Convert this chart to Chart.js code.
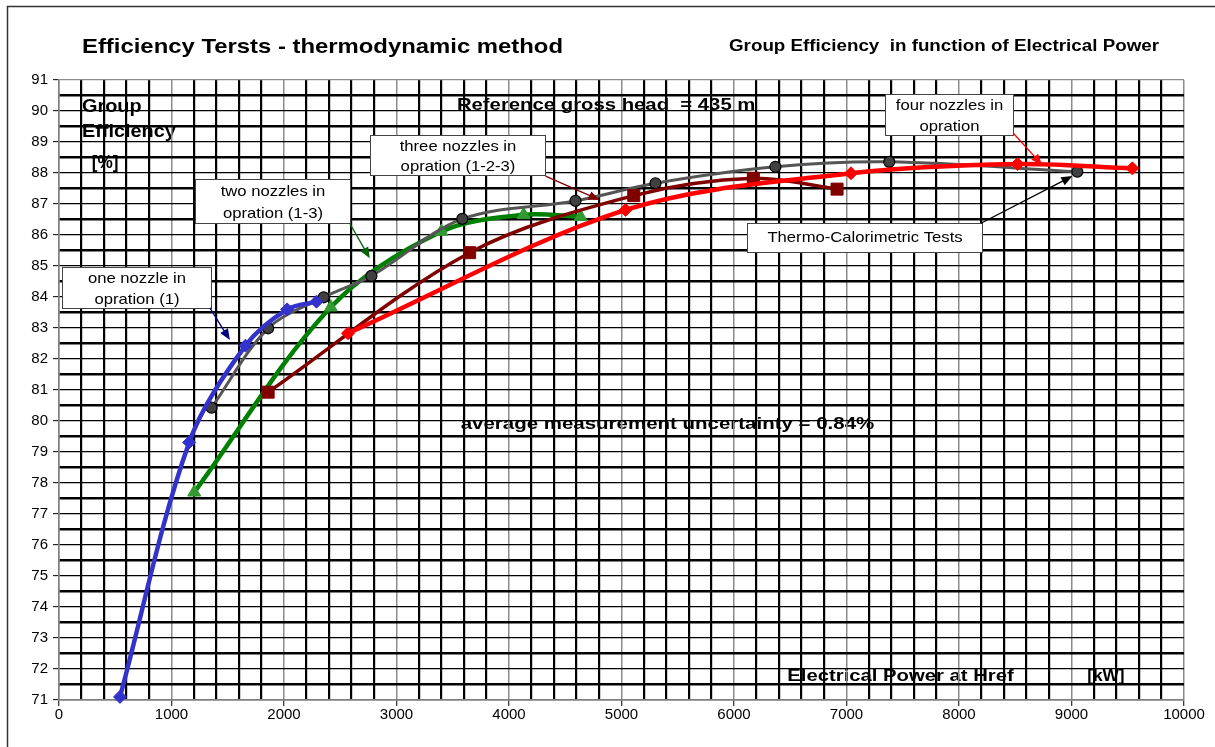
<!DOCTYPE html>
<html>
<head>
<meta charset="utf-8">
<title>Efficiency Tersts - thermodynamic method</title>
<script src="https://cdn.jsdelivr.net/npm/chart.js@4.4.1/dist/chart.umd.min.js"></script>
<style>
  html, body { margin: 0; padding: 0; background: #fff; }
  canvas { display: block; }
</style>
</head>
<body>
<canvas id="chart" width="1215" height="747"></canvas>
<script>
// ── Data (x = kW at Href, y = group efficiency %) ──
const oneNozzleX    = [542, 1157, 1658, 2028, 2289];
const oneNozzleY    = [71.10, 79.31, 82.43, 83.60, 83.85];
const twoNozzlesX   = [1202, 2416, 3399, 4130, 4636];
const twoNozzlesY   = [77.70, 83.67, 86.11, 86.65, 86.59];
const threeNozzlesX = [1859, 3650, 5109, 6172, 6916];
const threeNozzlesY = [80.93, 85.43, 87.27, 87.83, 87.48];
const fourNozzlesX  = [2569, 5036, 7040, 8520, 9541];
const fourNozzlesY  = [82.83, 86.81, 87.99, 88.29, 88.15];
const thermoX       = [1356, 1859, 2353, 2777, 3585, 4591, 5302, 6368, 7380, 9052];
const thermoY       = [80.43, 82.99, 83.99, 84.68, 86.52, 87.10, 87.67, 88.20, 88.36, 88.04];

// axis ticks: labelled majors + unlabelled minor grid steps
const X_MIN = 0, X_MAX = 10000, X_STEP = 200, X_MAJOR = 1000;
const Y_MIN = 71, Y_MAX = 91, Y_STEP = 0.5;
const xTicks = Array.from({ length: (X_MAX - X_MIN) / X_STEP + 1 }, (_, i) => X_MIN + i * X_STEP);
const yTicks = Array.from({ length: (Y_MAX - Y_MIN) / Y_STEP + 1 }, (_, i) => Y_MIN + i * Y_STEP);

const TITLE    = "Efficiency Tersts - thermodynamic method";
const SUBTITLE = "Group Efficiency  in function of Electrical Power";

const FONT = 'Arial, "Liberation Sans", sans-serif';
Chart.defaults.font.family = FONT;

// texts sitting inside the plot (under the grid), anchored in data units
const plotTexts = [
    { text: "Group",      x0: 204,  x1: 734,  y: 90.14, font: "bold 18px " + FONT },
    { text: "Efficiency", x0: 204,  x1: 1039, y: 89.33, font: "bold 18px " + FONT },
    { text: "[%]",        x0: 291,  x1: 529,  y: 88.32, font: "bold 18px " + FONT },
    { text: "Reference gross head  = 435 m",           x0: 3537, x1: 6190, y: 90.19, font: "bold 17px " + FONT },
    { text: "average measurement uncertainty = 0.84%", x0: 3570, x1: 7247, y: 79.90, font: "bold 17px " + FONT },
    { text: "Electrical Power at Href", x0: 6474, x1: 8486, y: 71.74, font: "bold 16px " + FONT },
    { text: "[kW]",                     x0: 9139, x1: 9472, y: 71.74, font: "bold 16px " + FONT },
];

// callout boxes with arrows: box = [xLeft, yTop, xRight, yBottom]
const callouts = [
    { lines: ["one nozzle in", "opration (1)"],         box: [27, 84.98, 1350, 83.64],   from: [1341, 83.65], to: [1519, 82.61], color: "#000080" },
    { lines: ["two nozzles in", "opration (1-3)"],      box: [1208, 87.82, 2584, 86.38], from: [2584, 86.38], to: [2762, 85.25], color: "#006400" },
    { lines: ["three nozzles in", "opration (1-2-3)"],  box: [2766, 89.23, 4320, 87.92], from: [4325, 87.90], to: [4805, 87.13], color: "#800000" },
    { lines: ["four nozzles in", "opration"],           box: [7345, 90.55, 8481, 89.23], from: [8481, 89.29], to: [8739, 88.26], color: "#ff0000" },
    { lines: ["Thermo-Calorimetric Tests"],             box: [6116, 86.40, 8200, 85.45], from: [8195, 86.38], to: [9008, 87.90], color: "#000000" },
];

const pts = (xs, ys) => xs.map((x, i) => ({ x, y: ys[i] }));

// draws text stretched horizontally to span x0..x1 (the original is wide-set)
function fitText(ctx, text, x0, x1, yc, font) {
    ctx.font = font;
    const w = ctx.measureText(text).width;
    ctx.save();
    ctx.translate(x0, yc);
    ctx.scale((x1 - x0) / w, 1);
    ctx.textAlign = "left";
    ctx.textBaseline = "middle";
    ctx.fillText(text, 0, 0);
    ctx.restore();
}

function arrow(ctx, x0, y0, x1, y1, color) {
    const a = Math.atan2(y1 - y0, x1 - x0), L = 11, W = 4.5;
    ctx.strokeStyle = color; ctx.fillStyle = color; ctx.lineWidth = 1.3;
    ctx.beginPath();
    ctx.moveTo(x0, y0);
    ctx.lineTo(x1 - Math.cos(a) * L * 0.8, y1 - Math.sin(a) * L * 0.8);
    ctx.stroke();
    ctx.beginPath();
    ctx.moveTo(x1, y1);
    ctx.lineTo(x1 - Math.cos(a) * L - Math.sin(a) * W, y1 - Math.sin(a) * L + Math.cos(a) * W);
    ctx.lineTo(x1 - Math.cos(a) * L + Math.sin(a) * W, y1 - Math.sin(a) * L - Math.cos(a) * W);
    ctx.closePath();
    ctx.fill();
}

const decorPlugin = {
    id: "decor",
    beforeDraw(chart) {
        const { ctx, scales: { x, y } } = chart;
        ctx.save();
        ctx.fillStyle = "#fff";
        ctx.fillRect(0, 0, chart.width, chart.height);
        // outer frame (only top and left edges fall inside the picture)
        ctx.strokeStyle = "#333"; ctx.lineWidth = 1.5;
        ctx.beginPath();
        ctx.moveTo(7.5, chart.height); ctx.lineTo(7.5, 6.5); ctx.lineTo(chart.width, 6.5);
        ctx.stroke();
        ctx.fillStyle = "#000";
        fitText(ctx, TITLE, 82, 563, 47, "bold 21px " + FONT);
        fitText(ctx, SUBTITLE, 729, 1159, 47, "bold 16px " + FONT);
        plotTexts.forEach(t => fitText(ctx, t.text,
            x.getPixelForValue(t.x0), x.getPixelForValue(t.x1), y.getPixelForValue(t.y), t.font));
        ctx.restore();
    },
    afterDraw(chart) {
        const { ctx, scales: { x, y } } = chart;
        ctx.save();
        callouts.forEach(c => {
            const l = Math.round(x.getPixelForValue(c.box[0])) + 0.5;
            const t = Math.round(y.getPixelForValue(c.box[1])) + 0.5;
            const r = Math.round(x.getPixelForValue(c.box[2])) + 0.5;
            const b = Math.round(y.getPixelForValue(c.box[3])) + 0.5;
            ctx.fillStyle = "#fff";
            ctx.fillRect(l, t, r - l, b - t);
            ctx.strokeStyle = "#444"; ctx.lineWidth = 1;
            ctx.strokeRect(l, t, r - l, b - t);
            ctx.fillStyle = "#000";
            ctx.font = "15px " + FONT;
            ctx.textBaseline = "middle";
            ctx.textAlign = "center";
            const h = b - t;
            const ys = c.lines.length === 2 ? [t + h * 0.28, t + h * 0.78] : [t + h / 2];
            c.lines.forEach((s, i) => {
                ctx.save();
                ctx.translate((l + r) / 2, ys[i]);
                ctx.scale(1.11, 1);
                ctx.fillText(s, 0, 0);
                ctx.restore();
            });
            arrow(ctx, x.getPixelForValue(c.from[0]), y.getPixelForValue(c.from[1]),
                       x.getPixelForValue(c.to[0]),   y.getPixelForValue(c.to[1]), c.color);
        });
        ctx.restore();
    },
};

const isMajorX = v => v % X_MAJOR === 0;
const isMajorY = v => Number.isInteger(v);

new Chart(document.getElementById("chart"), {
    type: "scatter",
    data: {
        datasets: [
            { label: "four nozzles in opration", data: pts(fourNozzlesX, fourNozzlesY),
              borderColor: "#ff0000", backgroundColor: "#ff0000", borderWidth: 4.5,
              pointStyle: "rectRot", pointRadius: 6.5, pointBorderWidth: 1, order: 1 },
            { label: "three nozzles in opration (1-2-3)", data: pts(threeNozzlesX, threeNozzlesY),
              borderColor: "#800000", backgroundColor: "#800000", borderWidth: 3.5,
              pointStyle: "rect", pointRadius: 8.5, pointBorderWidth: 1, order: 2 },
            { label: "one nozzle in opration (1)", data: pts(oneNozzleX, oneNozzleY),
              borderColor: "#3333cc", backgroundColor: "#3333cc", borderWidth: 4.5,
              pointStyle: "rectRot", pointRadius: 6.5, pointBorderWidth: 1, order: 3 },
            { label: "Thermo-Calorimetric Tests", data: pts(thermoX, thermoY),
              borderColor: "#555555", backgroundColor: "#404040", borderWidth: 3,
              pointStyle: "circle", pointRadius: 5.5, pointBorderWidth: 1.2,
              pointBorderColor: "#000", order: 4 },
            { label: "two nozzles in opration (1-3)", data: pts(twoNozzlesX, twoNozzlesY),
              borderColor: "#008000", backgroundColor: "#339933", borderWidth: 4.5,
              pointStyle: "triangle", pointRadius: 7.5, pointBorderWidth: 1,
              pointBorderColor: "#339933", order: 5 },
        ],
    },
    options: {
        responsive: false,
        animation: false,
        showLine: true,
        datasets: { scatter: { showLine: true, tension: 0.33, clip: false } },
        layout: { padding: { top: 80, right: 31, left: 0, bottom: 0 } },
        plugins: { legend: { display: false }, tooltip: { enabled: false } },
        scales: {
            x: {
                type: "linear", min: X_MIN, max: X_MAX,
                afterBuildTicks: s => { s.ticks = xTicks.map(v => ({ value: v })); },
                afterFit: s => { s.height = 47; },
                ticks: { autoSkip: false, maxRotation: 0, padding: 0, color: "#000",
                         font: { size: 15 }, callback: v => isMajorX(v) ? v : "" },
                grid: {
                    color: c => isMajorX(c.tick.value) ? "#8c8c8c" : "#000",
                    lineWidth: c => isMajorX(c.tick.value) ? 1.5 : 2.2,
                    tickColor: c => isMajorX(c.tick.value) ? "#000" : "rgba(0,0,0,0)",
                    tickWidth: 1, tickLength: 6,
                },
                border: { color: "#808080", width: 1.5 },
            },
            y: {
                type: "linear", min: Y_MIN, max: Y_MAX,
                afterBuildTicks: s => { s.ticks = yTicks.map(v => ({ value: v })); },
                afterFit: s => { s.width = 59; },
                ticks: { autoSkip: false, padding: 5, color: "#000",
                         font: { size: 15 }, callback: v => isMajorY(v) ? v : "" },
                grid: {
                    color: c => c.tick.value === Y_MAX ? "#8c8c8c" : "#000",
                    lineWidth: c => isMajorY(c.tick.value) ? 1.3 : 2.4,
                    tickColor: c => isMajorY(c.tick.value) ? "#000" : "rgba(0,0,0,0)",
                    tickWidth: 1, tickLength: 6,
                },
                border: { color: "#808080", width: 1.5 },
            },
        },
    },
    plugins: [decorPlugin],
});
</script>
</body>
</html>
